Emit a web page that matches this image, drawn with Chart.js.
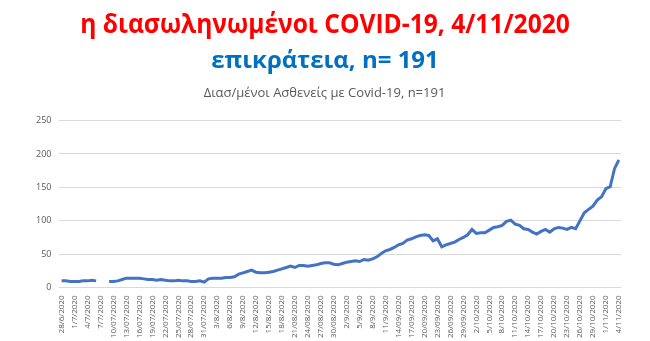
<!DOCTYPE html>
<html>
<head>
<meta charset="utf-8">
<script src="https://cdn.jsdelivr.net/npm/chart.js@4"></script>
<style>
    html, body { margin: 0; padding: 0; background: #fff; }
    #wrap { position: relative; width: 650px; height: 341px; }
    .head { position: absolute; left: 0; width: 650px; text-align: center; font-weight: bold; font-family: "Open Sans", sans-serif; white-space: nowrap; }
    #head1 { top: 4px; color: #ff0000; font-size: 27px; transform: scaleX(0.91); }
    #head2 { top: 42px; color: #0070c0; font-size: 24px; }
    #myChart { position: absolute; left: 0; top: 0; }
</style>
</head>
<body>
<div id="wrap">
    <canvas id="myChart" width="650" height="341"></canvas>
    <div class="head" id="head1">η διασωληνωμένοι COVID-19, 4/11/2020</div>
    <div class="head" id="head2">επικράτεια, n= 191</div>
</div>
<script>
// daily categories 28/6/2020 .. 4/11/2020
var days = []
var months = [[6, 28, 30], [7, 1, 31], [8, 1, 31], [9, 1, 30], [10, 1, 31], [11, 1, 4]]
months.forEach(function(m) {
    for (var d = m[1]; d <= m[2]; d++) days.push(d + '/' + m[0] + '/2020')
})

// labels shown on the axis (every 3rd day, as written in the sheet)
var tickLabels = ['28/6/2020', '1/7/2020', '4/7/2020', '7/7/2020', '10/07/2020', '13/07/2020', '16/07/2020',
    '19/07/2020', '22/07/2020', '25/07/2020', '28/07/2020', '31/07/2020', '3/8/2020', '6/8/2020', '9/8/2020',
    '12/8/2020', '15/8/2020', '18/8/2020', '21/08/2020', '24/08/2020', '27/08/2020', '30/08/2020', '2/9/2020',
    '5/9/2020', '8/9/2020', '11/9/2020', '14/09/2020', '17/09/2020', '20/09/2020', '23/09/2020', '26/09/2020',
    '29/09/2020', '2/10/2020', '5/10/2020', '8/10/2020', '11/10/2020', '14/10/2020', '17/10/2020', '20/10/2020',
    '23/10/2020', '26/10/2020', '29/10/2020', '1/11/2020', '4/11/2020']

var intubated = [
    10, 10, 9, 9, 9, 10, 10, 11, 10, null,
    null, 9, 9, 10, 12, 14, 14, 14, 14, 13,
    12, 12, 11, 12, 11, 10, 10, 11, 10, 10,
    9, 9, 10, 8, 13, 14, 14, 14, 15, 15,
    16, 20, 22, 24, 26, 23, 22, 22, 23, 24,
    26, 28, 30, 32, 30, 33, 33, 32, 33, 34,
    36, 37, 37, 35, 34, 36, 38, 39, 40, 39,
    42, 41, 43, 46, 51, 55, 57, 60, 64, 66,
    71, 73, 76, 78, 79, 78, 70, 73, 61, 64,
    66, 68, 72, 75, 79, 87, 81, 82, 82, 86,
    90, 91, 93, 99, 101, 95, 93, 88, 87, 83,
    80, 84, 87, 83, 88, 90, 89, 87, 90, 88,
    100, 112, 117, 122, 131, 136, 148, 151, 178, 191
]

var yTicks = [0, 50, 100, 150, 200, 250]

var grey = '#595959'
var font = "'Open Sans', 'Liberation Sans', sans-serif"

const ctx = document.getElementById('myChart');
const myChart = new Chart(ctx, {
    type: 'line',
    data: {
        labels: days,
        datasets: [{
            label: 'Διασ/μένοι',
            data: intubated,
            borderColor: '#4472c4',
            backgroundColor: '#4472c4',
            borderWidth: 3,
            pointRadius: 0,
            tension: 0,
            spanGaps: false
        }]
    },
    options: {
        responsive: false,
        animation: false,
        layout: {
            padding: { top: 85, left: 28, right: 29, bottom: 3 }
        },
        plugins: {
            legend: { display: false },
            tooltip: { enabled: false },
            title: {
                display: true,
                text: 'Διασ/μένοι Ασθενείς με Covid-19, n=191',
                color: grey,
                font: { family: font, size: 13, weight: 'normal' },
                padding: { top: 0, bottom: 20 }
            }
        },
        scales: {
            x: {
                offset: true,
                grid: { display: false },
                border: { display: false },
                ticks: {
                    autoSkip: false,
                    maxRotation: 90,
                    minRotation: 90,
                    color: grey,
                    font: { family: font, size: 8 },
                    padding: 0,
                    callback: function(v, i) {
                        return i % 3 === 0 ? tickLabels[i / 3] : null
                    }
                }
            },
            y: {
                min: 0,
                max: 250,
                afterBuildTicks: function(axis) {
                    axis.ticks = yTicks.map(function(v) { return { value: v } })
                },
                grid: { color: '#d9d9d9', drawTicks: false, lineWidth: 1 },
                border: { display: false },
                ticks: {
                    color: grey,
                    font: { family: font, size: 9 },
                    padding: 8
                }
            }
        }
    }
});
</script>
</body>
</html>
